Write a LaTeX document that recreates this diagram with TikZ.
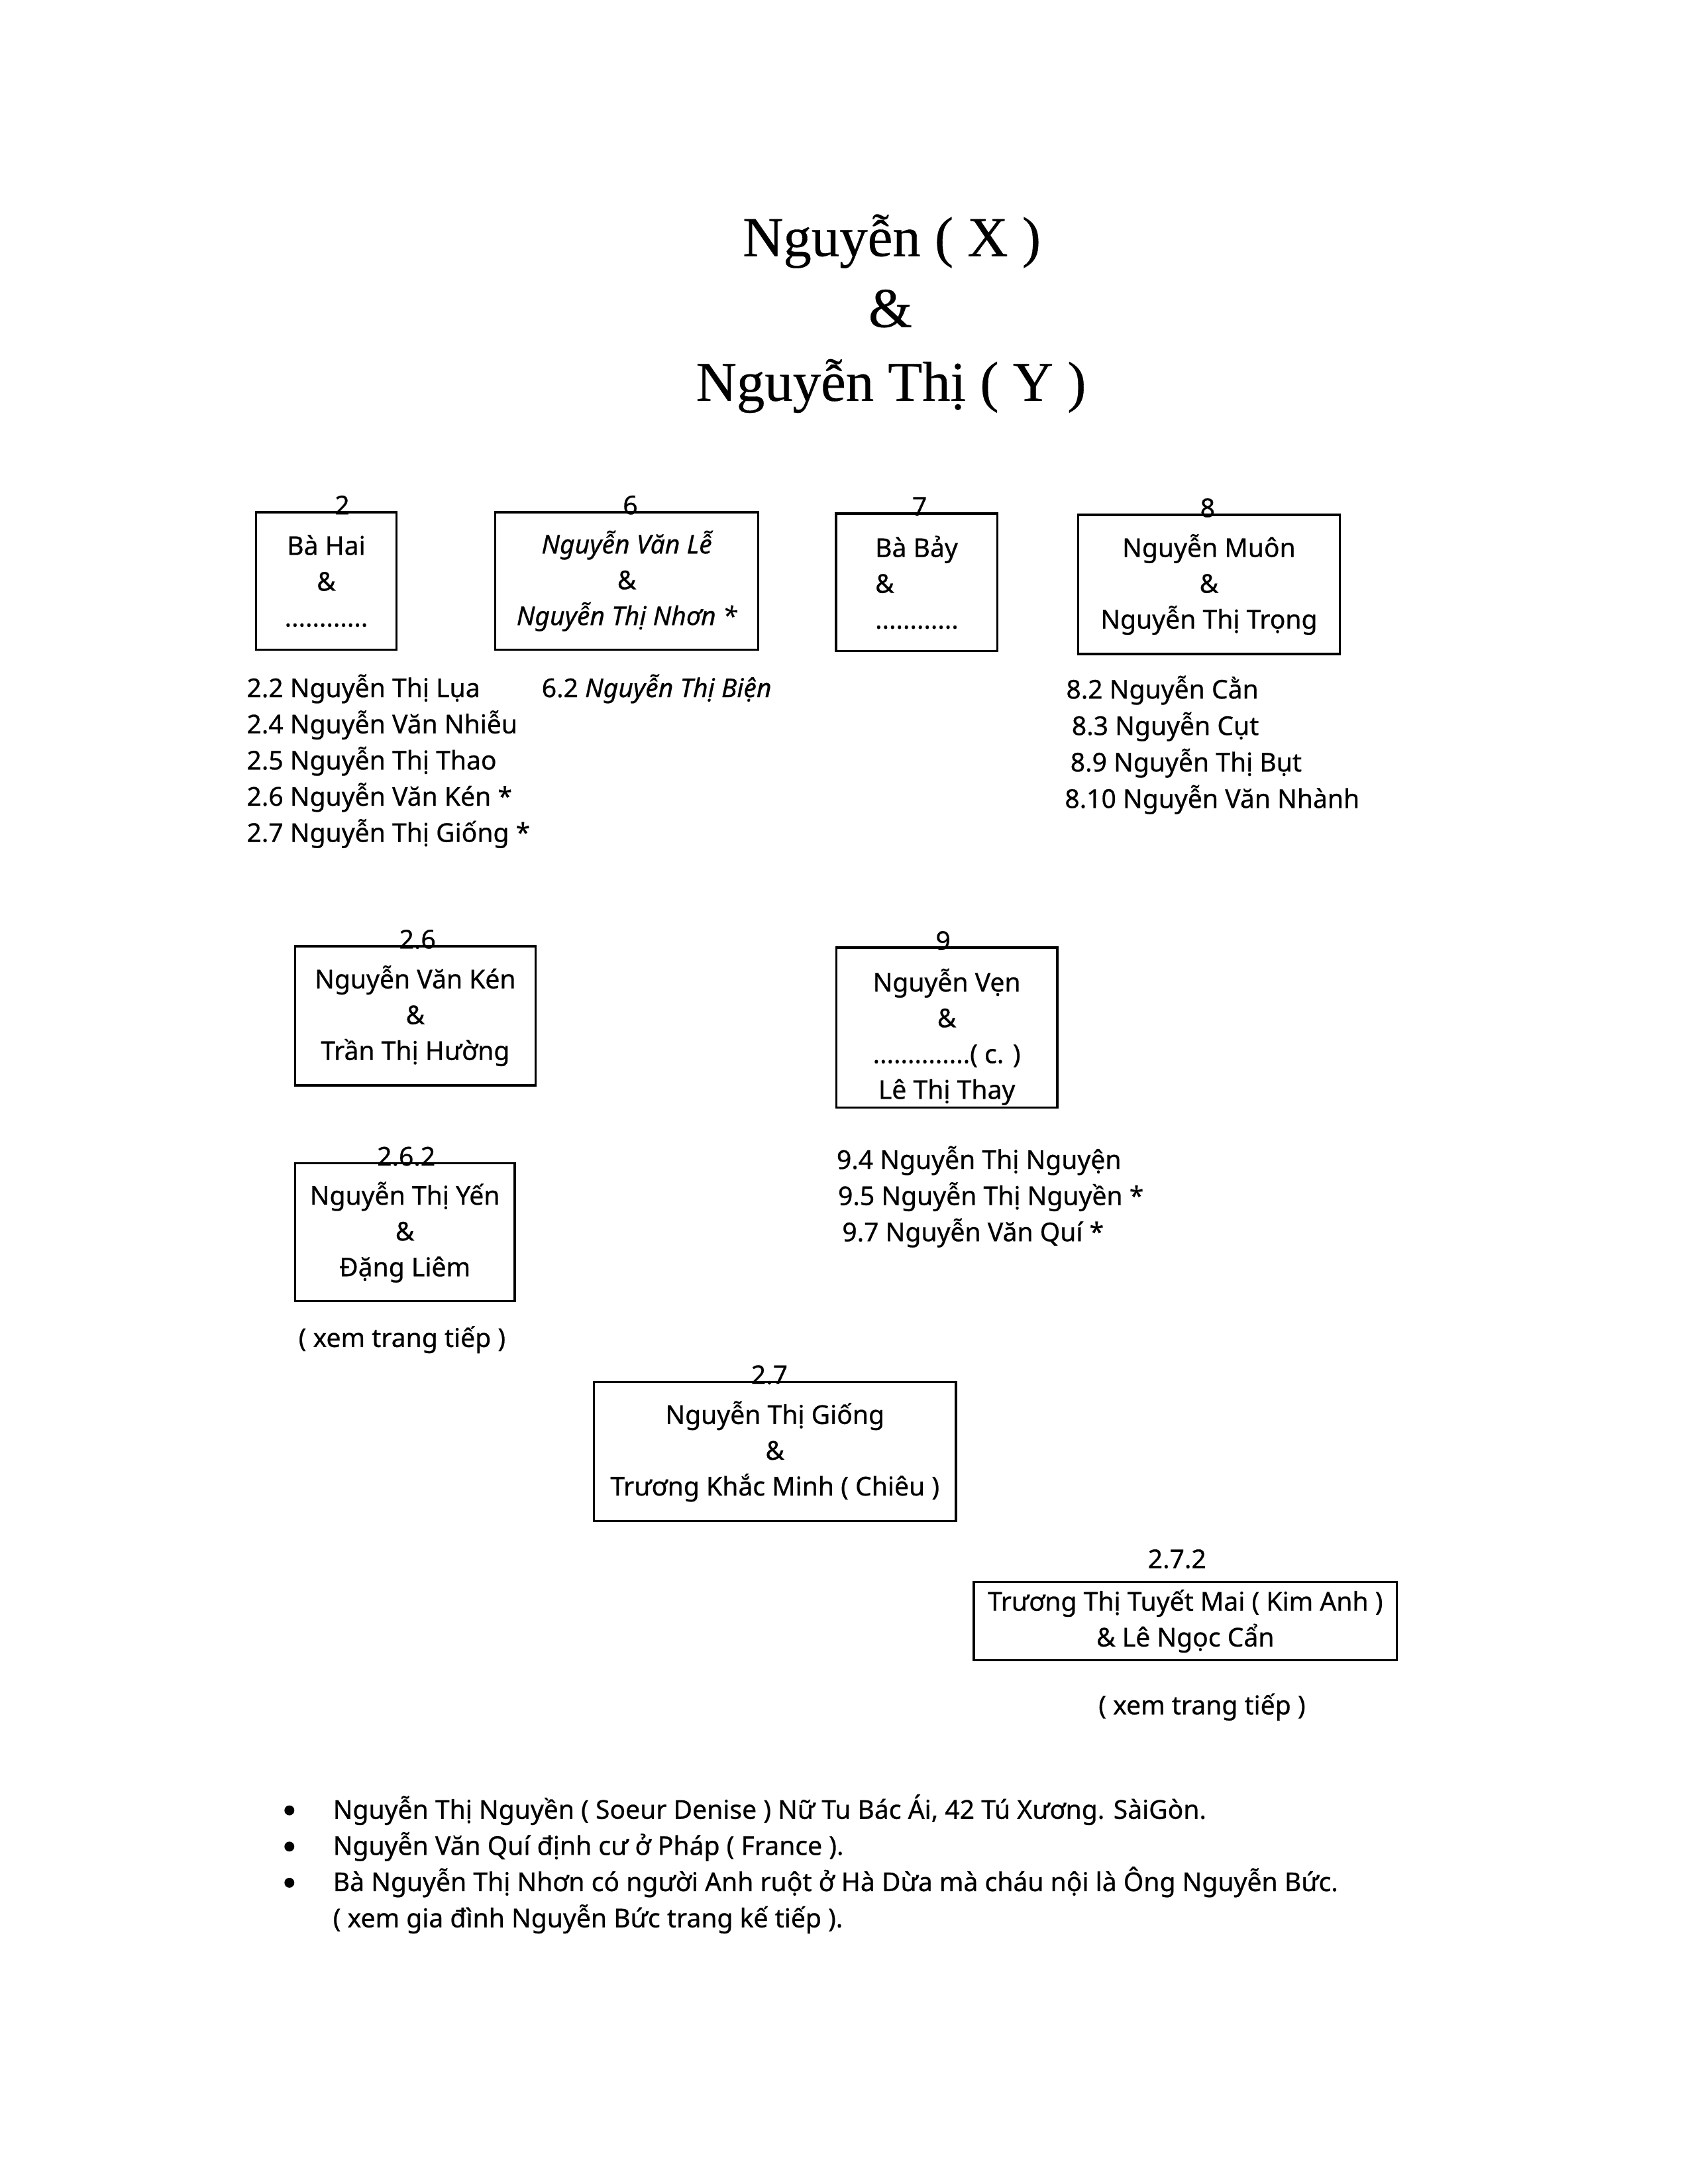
\documentclass[tikz,border=0pt]{standalone}
\usepackage{fontspec}
\setmainfont{Noto Sans}[FakeBold=0.6]
\newfontfamily\titrefont{Liberation Serif}[FakeBold=0.4]
\newcommand{\corps}{\fontsize{9.4}{13}\selectfont}

\begin{document}
\begin{tikzpicture}[x=0.5052pt, y=-0.5052pt,
  famille/.style={draw, line width=0.8pt, align=center, inner sep=0pt, font=\corps},
  numero/.style={anchor=base, inner sep=0pt, font=\corps},
  ligne/.style={anchor=base west, inner sep=0pt, font=\corps},
  puce/.style={circle, fill, inner sep=0pt, minimum size=3.6pt},
  titre/.style={anchor=base, inner sep=0pt, font=\titrefont\fontsize{20.4}{26}\selectfont},
]
  \path[use as bounding box, fill=white] (0,0) rectangle (1211.4,1569.5);

  % titre
  \node[titre] (t1) at (641,184) {Nguyễn ( X )};
  \node[titre] (t2) at (640,235) {\&};
  \node[titre] (t3) at (640.5,288) {Nguyễn Thị ( Y )};

  % premiere rangee
  \node[famille, minimum width=51pt, minimum height=50pt] (b2) at (234.5,417.5)
    {Bà Hai\\\&\\............};
  \node[famille, minimum width=95.5pt, minimum height=50pt] (b6) at (450.5,417.5)
    {\itshape Nguyễn Văn Lễ\\\&\\\itshape Nguyễn Thị Nhơn *};
  \node[famille, align=left, minimum width=58.6pt, minimum height=50pt] (b7) at (659,418.5)
    {Bà Bảy\\ \&\\............};
  \node[famille, minimum width=95pt, minimum height=50.5pt] (b8) at (869,420)
    {Nguyễn Muôn\\\&\\Nguyễn Thị Trọng};
  \node[numero] (n2) at ([xshift=5.8pt,yshift=-1.2pt]b2.north) {2};
  \node[numero] (n6) at ([xshift=1.3pt,yshift=-1.2pt]b6.north) {6};
  \node[numero] (n7) at ([xshift=1pt,yshift=-1.2pt]b7.north) {7};
  \node[numero] (n8) at ([xshift=-0.5pt,yshift=-1.2pt]b8.north) {8};

  % enfants
  \foreach \nom [count=\i from 0] in {2.2 Nguyễn Thị Lụa, 2.4 Nguyễn Văn Nhiễu,
      2.5 Nguyễn Thị Thao, 2.6 Nguyễn Văn Kén *, 2.7 Nguyễn Thị Giống *}
    \node[ligne] (c2-\i) at (177,{501+26*\i}) {\nom};
  \node[ligne] (c6-0) at (389,501) {6.2 \textit{Nguyễn Thị Biện}};
  \foreach \x/\nom [count=\i from 0] in {766/8.2 Nguyễn Cằn, 770/8.3 Nguyễn Cụt,
      769/8.9 Nguyễn Thị Bụt, 765/8.10 Nguyễn Văn Nhành}
    \node[ligne] (c8-\i) at (\x,{502+26.2*\i}) {\nom};

  % deuxieme rangee
  \node[famille, minimum width=87.4pt, minimum height=50.5pt] (b26) at (298.5,730)
    {Nguyễn Văn Kén\\\&\\Trần Thị Hường};
  \node[famille, minimum width=80.3pt, minimum height=58.1pt] (b9) at (680.5,738.5)
    {\mbox{}\\[2pt]Nguyễn Vẹn\\\&\\..............( c. )\\Lê Thị Thay};
  \node[numero] (n26) at ([xshift=0.8pt,yshift=-1.2pt]b26.north) {2.6};
  \node[numero] (n9) at ([xshift=-1.3pt,yshift=-1.2pt]b9.north) {9};
  \foreach \x/\nom [count=\i from 0] in {601/9.4 Nguyễn Thị Nguyện,
      602/9.5 Nguyễn Thị Nguyền *, 605/9.7 Nguyễn Văn Quí *}
    \node[ligne] (c9-\i) at (\x,{840+26*\i}) {\nom};

  \node[famille, minimum width=79.8pt, minimum height=50pt] (b262) at (291,885.5)
    {Nguyễn Thị Yến\\\&\\Đặng Liêm};
  \node[numero] (n262) at ([xshift=0.5pt,yshift=-1.2pt]b262.north) {2.6.2};
  \node[numero] (x262) at (289,968) {( xem trang tiếp )};

  % 2.7
  \node[famille, minimum width=131.4pt, minimum height=50.5pt] (b27) at (557,1043)
    {Nguyễn Thị Giống\\\&\\Trương Khắc Minh ( Chiêu )};
  \node[numero] (n27) at ([xshift=-2pt,yshift=-1.2pt]b27.north) {2.7};

  \node[famille, minimum width=153.6pt, minimum height=28.3pt] (b272) at (852,1165)
    {Trương Thị Tuyết Mai ( Kim Anh )\\\& Lê Ngọc Cẩn};
  \node[numero] (n272) at ([xshift=-3pt,yshift=4.7pt]b272.north) {2.7.2};
  \node[numero] (x272) at (864,1232) {( xem trang tiếp )};

  % notes
  \foreach \i in {0,1,2}
    \node[puce] (p\i) at (208,{1301+26*\i}) {};
  \node[ligne] (r0) at (239,1307) {Nguyễn Thị Nguyền ( Soeur Denise ) Nữ Tu Bác Ái, 42 Tú Xương. SàiGòn.};
  \node[ligne] (r1) at (239,1333) {Nguyễn Văn Quí định cư ở Pháp ( France ).};
  \node[ligne] (r2) at (239,1359) {Bà Nguyễn Thị Nhơn có người Anh ruột ở Hà Dừa mà cháu nội là Ông Nguyễn Bức.};
  \node[ligne] (r3) at (239,1385) {( xem gia đình Nguyễn Bức trang kế tiếp ).};
\end{tikzpicture}
\end{document}
